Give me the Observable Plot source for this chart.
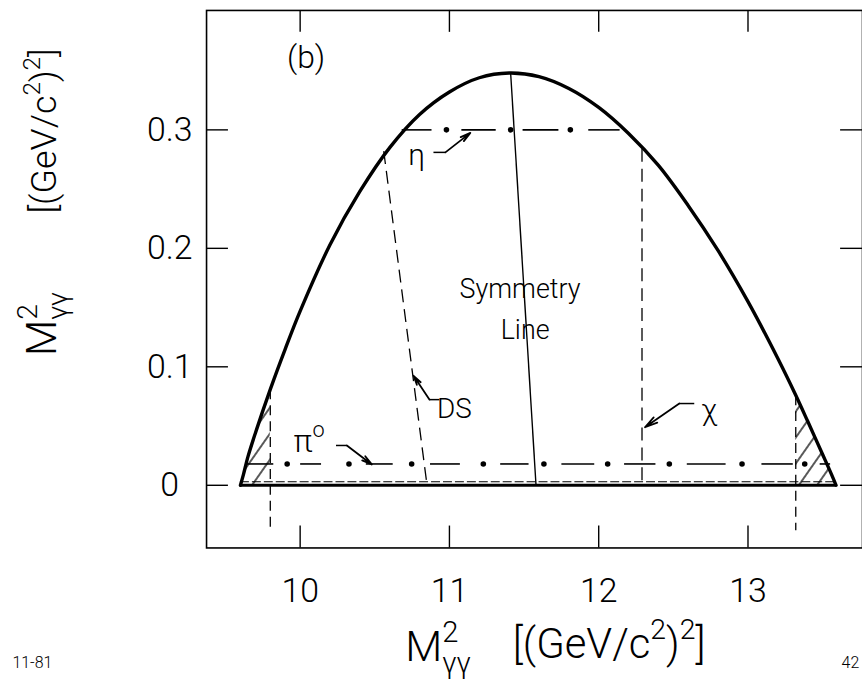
<!DOCTYPE html>
<html>
<head>
<meta charset="utf-8">
<script src="https://cdn.jsdelivr.net/npm/d3@7"></script>
<script src="https://cdn.jsdelivr.net/npm/@observablehq/plot@0.6"></script>
<style>
  html, body { margin: 0; padding: 0; background: #fff; overflow: hidden; }
  #chart svg { display: block; }
</style>
</head>
<body>
<div id="chart"></div>
<script>
// Upper kinematic boundary of the Dalitz plot, (GeV/c^2)^2
const boundaryX = [9.60, 9.62, 9.65, 9.70, 9.80, 9.90, 10.00, 10.20, 10.40, 10.60, 10.80, 11.00, 11.20, 11.40,
                   11.60, 11.80, 12.00, 12.20, 12.40, 12.60, 12.80, 13.00, 13.20, 13.32, 13.40, 13.50, 13.56, 13.59];
const boundaryY = [0.000, 0.009, 0.024, 0.044, 0.081, 0.115, 0.147, 0.203, 0.248, 0.285, 0.313, 0.332, 0.344, 0.348,
                   0.345, 0.335, 0.319, 0.297, 0.270, 0.236, 0.198, 0.155, 0.107, 0.076, 0.054, 0.026, 0.009, 0.000];
// Lower edge of the allowed region (solid edge plus the dashed strip just above it)
const baseX = [9.60, 13.59];
const baseY = 0;
const stripY = 0.0030;

// eta band: dash segments and dots along the dash-dot line
const etaY = 0.300;
const etaDashStart = [10.68, 11.08, 11.49, 11.93];
const etaDashEnd   = [10.88, 11.31, 11.73, 12.14];
const etaDotsX = [10.98, 11.41, 11.81];
// pi0 band
const pi0Y = 0.018;
const pi0DashStart = [9.64, 10.00, 10.44, 10.87, 11.34, 11.75, 12.17, 12.59, 13.09, 13.48];
const pi0DashEnd   = [9.82, 10.14, 10.62, 11.07, 11.53, 11.97, 12.38, 12.85, 13.30, 13.55];
const pi0DotsX = [9.913, 10.327, 10.747, 11.227, 11.633, 12.06, 12.473, 12.96, 13.38];

// Straight construction lines: symmetry line, DS and chi bands
const symX = [11.41, 11.58], symY = [0.348, 0.000];
const dsX = [10.56, 10.85], dsY = [0.282, 0.000];
const chiX = [12.29, 12.29], chiY = [0.284, 0.000];
// Cut lines bounding the hatched corners
const cutX = [9.80, 13.32], cutTopY = [0.081, 0.076], cutBottomY = -0.038;

// Axis ticks
const xTicks = [10, 11, 12, 13];
const xTickLabels = ["10", "11", "12", "13"];
const yTicks = [0, 0.1, 0.2, 0.3];
const yTickLabels = ["0", "0.1", "0.2", "0.3"];

// Annotation labels (data units)
const noteText = ["(b)", "η", "π^{o}", "DS", "χ", "Symmetry", "Line"];
const noteX = [10.04, 10.78, 10.06, 11.033, 12.74, 11.473, 11.507];
const noteY = [0.361, 0.278, 0.037, 0.0647, 0.063, 0.1655, 0.131];
const noteSize = [32, 30, 32, 28, 30, 27, 27];

// Annotation arrows: tail segments and headed segments
const tailX1 = [10.893, 10.24, 10.933, 12.64], tailY1 = [0.281, 0.0336, 0.0723, 0.069];
const tailX2 = [10.973, 10.313, 10.867, 12.54], tailY2 = [0.281, 0.0336, 0.0723, 0.069];
const headX1 = [10.973, 10.313, 10.867, 12.54], headY1 = [0.281, 0.0336, 0.0723, 0.069];
const headX2 = [11.14, 10.48, 10.76, 12.31], headY2 = [0.2975, 0.0176, 0.0924, 0.049];

const FONT = "Roboto, 'Liberation Sans', 'DejaVu Sans', sans-serif";

const boundary = boundaryX.map((x, i) => ({x, y: boundaryY[i]}));
const leftCorner = boundary.filter(d => d.x <= cutX[0]);
const rightCorner = boundary.filter(d => d.x >= cutX[1]);
const idx = a => a.map((_, i) => i);

const frameW = 866 - 207, frameH = 550 - 10, tick = 22;

const chart = Plot.plot({
  width: 866,
  height: 682,
  marginLeft: 207,
  marginRight: 0,
  marginTop: 10,
  marginBottom: 132,
  x: {domain: [9.373, 13.767], axis: null},
  y: {domain: [-0.0529, 0.4008], axis: null},
  style: {fontFamily: FONT, fontWeight: 300, background: "white", color: "black"},
  marks: [
    // hatched corners
    Plot.areaY(leftCorner, {x: "x", y1: baseY, y2: "y", fill: "url(#hatch)", curve: "catmull-rom"}),
    Plot.areaY(rightCorner, {x: "x", y1: baseY, y2: "y", fill: "url(#hatch)", curve: "catmull-rom"}),
    Plot.frame({stroke: "black", strokeWidth: 1.6}),
    // inward ticks on all four sides
    Plot.tickX(xTicks, {x: d => d, insetTop: frameH - tick, stroke: "black", strokeWidth: 1.4}),
    Plot.tickX(xTicks, {x: d => d, insetBottom: frameH - tick, stroke: "black", strokeWidth: 1.4}),
    Plot.tickY(yTicks, {y: d => d, insetRight: frameW - tick, stroke: "black", strokeWidth: 1.4}),
    Plot.tickY(yTicks, {y: d => d, insetLeft: frameW - tick, stroke: "black", strokeWidth: 1.4}),
    // tick labels
    Plot.text(yTicks, {y: d => d, text: (d, i) => yTickLabels[i], frameAnchor: "left", dx: -37,
                       textAnchor: "middle", lineAnchor: "middle", fontSize: 34}),
    Plot.text(xTicks, {x: d => d, text: (d, i) => xTickLabels[i], frameAnchor: "bottom", dy: 43,
                       lineAnchor: "middle", fontSize: 34}),
    // axis titles
    Plot.text(["M^{2}_{γγ}"], {frameAnchor: "bottom", dx: -97, dy: 100, lineAnchor: "middle", fontSize: 43}),
    Plot.text(["[(GeV/c^{2})^{2}]"], {frameAnchor: "bottom", dx: 75, dy: 97, lineAnchor: "middle", fontSize: 42}),
    Plot.text(["M^{2}_{γγ}"], {frameAnchor: "left", rotate: -90, dx: -165, dy: 45, textAnchor: "middle",
                               lineAnchor: "middle", fontSize: 42}),
    Plot.text(["[(GeV/c^{2})^{2}]"], {frameAnchor: "left", rotate: -90, dx: -163, dy: -149, textAnchor: "middle",
                                      lineAnchor: "middle", fontSize: 36}),
    // footer marks
    Plot.text(["11-81"], {frameAnchor: "bottom-left", dx: -195, dy: 115, textAnchor: "start", lineAnchor: "middle",
                          fontSize: 16, letterSpacing: 3}),
    Plot.text(["42"], {frameAnchor: "bottom-right", dx: -21, dy: 115, textAnchor: "start", lineAnchor: "middle",
                       fontSize: 16, letterSpacing: 2}),
    // construction lines
    Plot.link([0], {x1: symX[0], y1: symY[0], x2: symX[1], y2: symY[1], stroke: "black", strokeWidth: 1.4}),
    Plot.link([0], {x1: dsX[0], y1: dsY[0], x2: dsX[1], y2: dsY[1], stroke: "black", strokeWidth: 1.3,
                    strokeDasharray: "13,7"}),
    Plot.link([0], {x1: chiX[0], y1: chiY[0], x2: chiX[1], y2: chiY[1], stroke: "black", strokeWidth: 1.3,
                    strokeDasharray: "13,7"}),
    Plot.link(cutX, {x1: d => d, x2: d => d, y1: (d, i) => cutTopY[i], y2: cutBottomY, stroke: "black",
                     strokeWidth: 1.3, strokeDasharray: "10,6"}),
    // resonance bands: dash-dot lines
    Plot.link(idx(etaDashStart), {x1: i => etaDashStart[i], x2: i => etaDashEnd[i], y1: etaY, y2: etaY,
                                  stroke: "black", strokeWidth: 1.6}),
    Plot.dot(etaDotsX, {x: d => d, y: etaY, r: 2.8, fill: "black"}),
    Plot.link(idx(pi0DashStart), {x1: i => pi0DashStart[i], x2: i => pi0DashEnd[i], y1: pi0Y, y2: pi0Y,
                                  stroke: "black", strokeWidth: 1.6}),
    Plot.dot(pi0DotsX, {x: d => d, y: pi0Y, r: 2.8, fill: "black"}),
    // kinematic boundary
    Plot.ruleY([stripY], {x1: baseX[0], x2: baseX[1], stroke: "black", strokeWidth: 1.2, strokeDasharray: "9,3"}),
    Plot.ruleY([baseY], {x1: baseX[0], x2: baseX[1], stroke: "black", strokeWidth: 3}),
    Plot.line(boundary, {x: "x", y: "y", stroke: "black", strokeWidth: 3.4, curve: "catmull-rom"}),
    // annotations
    Plot.link(idx(tailX1), {x1: i => tailX1[i], y1: i => tailY1[i], x2: i => tailX2[i], y2: i => tailY2[i],
                            stroke: "black", strokeWidth: 1.5}),
    Plot.arrow(idx(headX1), {x1: i => headX1[i], y1: i => headY1[i], x2: i => headX2[i], y2: i => headY2[i],
                             stroke: "black", strokeWidth: 1.8, headLength: 11, headAngle: 28}),
    Plot.text(idx(noteText), {x: i => noteX[i], y: i => noteY[i], text: i => noteText[i],
                              fontSize: i => noteSize[i]})
  ]
});

document.getElementById("chart").appendChild(chart);

// hatch pattern for the excluded corners
const defs = d3.select(chart).insert("defs", ":first-child");
defs.append("pattern")
    .attr("id", "hatch")
    .attr("patternUnits", "userSpaceOnUse")
    .attr("width", 15).attr("height", 15)
    .attr("patternTransform", "rotate(35)")
  .append("line")
    .attr("x1", 7).attr("y1", 0).attr("x2", 7).attr("y2", 15)
    .attr("stroke", "black").attr("stroke-width", 1.3);

// superscript / subscript markup: ^{..} and _{..}
d3.select(chart).selectAll("text").each(function() {
  const s = this.textContent;
  if (!/[\^_]\{/.test(s)) return;
  const fs = parseFloat(getComputedStyle(this).fontSize);
  const parts = s.split(/([\^_]\{[^}]*\})/).filter(p => p.length);
  this.textContent = "";
  let shift = 0, lastSup = null;
  for (const p of parts) {
    const t = d3.select(this).append("tspan");
    let target = 0, small = false, txt = p;
    if (p.startsWith("^{")) { target = -0.45 * fs; small = true; txt = p.slice(2, -1); }
    else if (p.startsWith("_{")) { target = 0.28 * fs; small = true; txt = p.slice(2, -1); }
    t.text(txt).attr("dy", target - shift);
    if (small) t.attr("font-size", 0.68 * fs);
    if (p.startsWith("_{") && lastSup) t.attr("dx", -lastSup.node().getComputedTextLength());
    lastSup = p.startsWith("^{") ? t : null;
    shift = target;
  }
});
</script>
</body>
</html>
